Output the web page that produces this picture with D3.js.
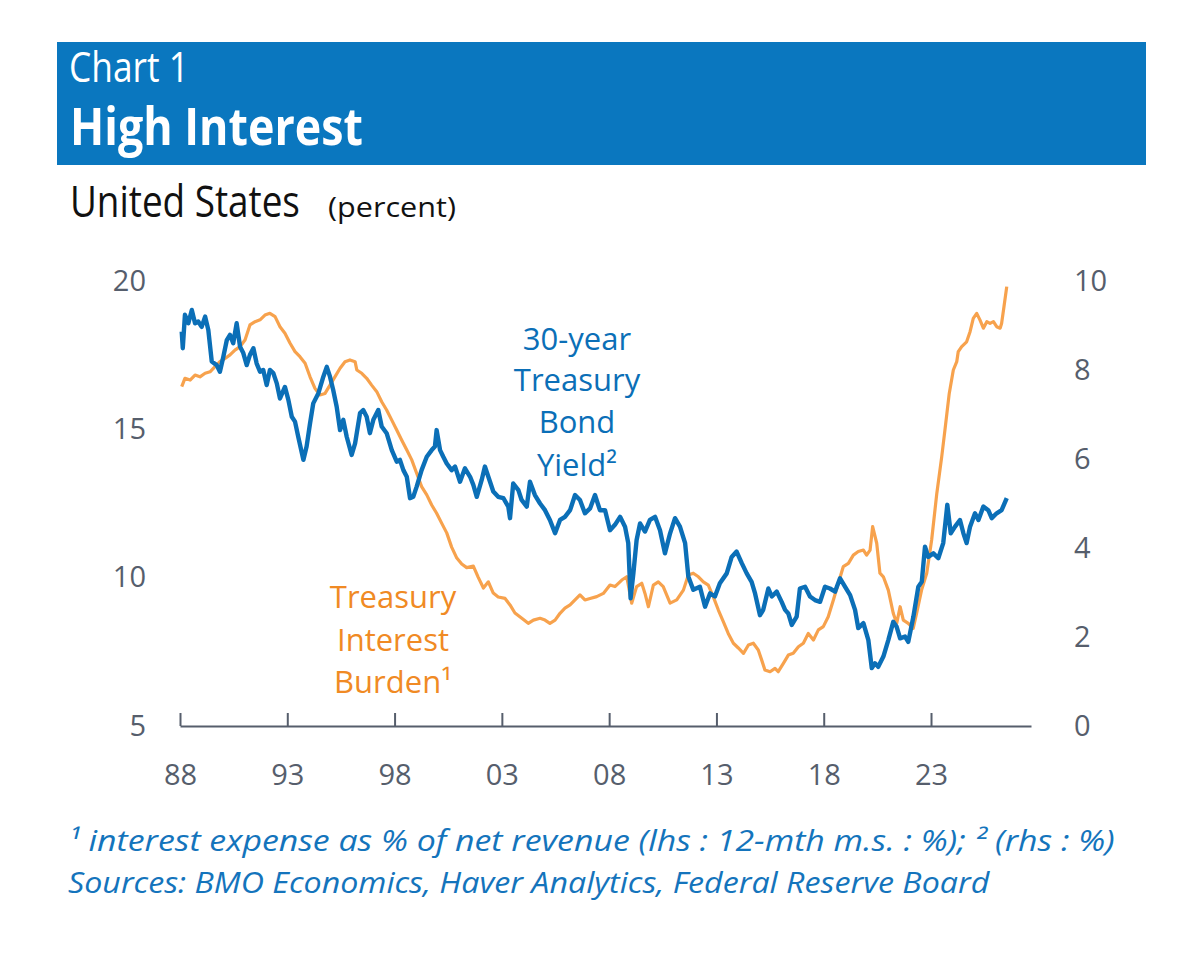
<!DOCTYPE html>
<html><head><meta charset="utf-8">
<script src="https://cdn.jsdelivr.net/npm/d3@7"></script>
<style>body{margin:0;background:#fff}</style></head>
<body><svg id="c" width="1200" height="967"></svg>
<script>
// ---- data ----
const bondYears = [1988.08,1988.13,1988.23,1988.39,1988.55,1988.70,1988.85,1989.01,1989.17,1989.32,1989.48,1989.71,1989.86,1990.02,1990.18,1990.33,1990.48,1990.64,1990.80,1990.95,1991.11,1991.26,1991.42,1991.57,1991.73,1991.88,1992.04,1992.19,1992.35,1992.51,1992.66,1992.89,1993.05,1993.21,1993.36,1993.51,1993.75,1993.90,1994.06,1994.21,1994.45,1994.68,1994.84,1994.99,1995.14,1995.30,1995.46,1995.61,1995.77,1996.00,1996.16,1996.39,1996.54,1996.70,1996.85,1997.01,1997.24,1997.40,1997.63,1997.87,1998.10,1998.25,1998.41,1998.57,1998.72,1998.87,1999.03,1999.26,1999.50,1999.73,1999.88,1999.96,2000.12,2000.27,2000.43,2000.66,2000.82,2001.05,2001.28,2001.52,2001.67,2001.83,2002.06,2002.21,2002.37,2002.60,2002.83,2003.07,2003.30,2003.38,2003.53,2003.77,2003.92,2004.16,2004.31,2004.54,2004.78,2005.01,2005.24,2005.48,2005.71,2005.94,2006.18,2006.41,2006.64,2006.87,2007.11,2007.34,2007.57,2007.81,2008.04,2008.27,2008.51,2008.74,2008.89,2009.00,2009.13,2009.28,2009.44,2009.67,2009.90,2010.14,2010.37,2010.60,2010.84,2011.07,2011.30,2011.54,2011.69,2011.92,2012.23,2012.47,2012.70,2012.93,2013.16,2013.48,2013.71,2013.94,2014.18,2014.41,2014.64,2014.80,2015.03,2015.18,2015.42,2015.58,2015.81,2016.04,2016.20,2016.35,2016.51,2016.74,2016.89,2017.13,2017.36,2017.59,2017.83,2018.06,2018.29,2018.53,2018.76,2018.99,2019.23,2019.46,2019.61,2019.85,2020.08,2020.24,2020.39,2020.54,2020.78,2021.01,2021.24,2021.40,2021.56,2021.79,2021.94,2022.18,2022.41,2022.57,2022.72,2022.87,2023.11,2023.34,2023.57,2023.76,2023.92,2024.12,2024.35,2024.51,2024.66,2024.82,2025.05,2025.21,2025.44,2025.67,2025.83,2026.06,2026.29,2026.53];
const bondYield = [8.86,8.49,9.24,9.05,9.35,9.05,9.09,8.97,9.20,8.90,8.19,8.11,7.96,8.30,8.67,8.79,8.60,9.05,8.52,8.38,8.11,8.34,8.49,8.15,7.96,8.00,7.66,8.00,7.93,7.70,7.36,7.62,7.33,6.95,6.84,6.50,5.98,6.28,6.80,7.25,7.48,7.85,8.07,7.85,7.55,7.18,6.65,6.88,6.50,6.09,6.35,7.03,7.10,6.95,6.58,6.88,7.10,6.73,6.58,6.20,5.94,5.98,5.75,5.60,5.12,5.15,5.38,5.75,6.05,6.20,6.28,6.65,6.20,6.05,5.90,5.75,5.83,5.49,5.79,5.60,5.42,5.15,5.53,5.83,5.60,5.27,5.15,5.12,4.93,4.67,5.45,5.30,5.08,4.93,5.49,5.19,5.00,4.85,4.63,4.33,4.63,4.70,4.85,5.19,5.08,4.78,4.89,5.19,4.85,4.85,4.40,4.52,4.70,4.48,4.11,2.87,3.43,4.18,4.55,4.37,4.63,4.70,4.40,3.88,4.33,4.67,4.48,4.11,3.36,3.06,3.13,2.68,2.98,2.91,3.21,3.43,3.80,3.92,3.66,3.43,3.24,2.98,2.49,2.61,3.09,2.91,3.02,2.79,2.61,2.53,2.27,2.46,3.09,3.13,2.91,2.83,2.79,3.13,3.09,3.02,3.32,3.13,2.94,2.61,2.20,2.31,1.93,1.30,1.41,1.33,1.56,1.93,2.34,2.23,1.97,2.01,1.89,2.46,3.13,3.24,4.03,3.80,3.88,3.77,4.11,4.97,4.33,4.48,4.63,4.33,4.11,4.48,4.78,4.63,4.93,4.85,4.67,4.78,4.85,5.12];

const burdenYears = [1988.08,1988.23,1988.47,1988.70,1988.93,1989.17,1989.40,1989.63,1989.86,1990.10,1990.33,1990.56,1990.80,1991.03,1991.26,1991.50,1991.73,1991.96,1992.19,1992.43,1992.66,1992.89,1993.13,1993.36,1993.59,1993.83,1994.06,1994.29,1994.52,1994.76,1994.99,1995.22,1995.46,1995.69,1995.92,1996.16,1996.24,1996.47,1996.70,1996.93,1997.17,1997.40,1997.63,1997.87,1998.10,1998.33,1998.57,1998.80,1999.03,1999.26,1999.50,1999.73,1999.96,2000.20,2000.43,2000.66,2000.90,2001.13,2001.36,2001.67,2001.90,2002.14,2002.37,2002.60,2002.83,2003.15,2003.38,2003.61,2003.93,2004.23,2004.47,2004.78,2005.01,2005.24,2005.48,2005.71,2005.94,2006.18,2006.41,2006.64,2006.87,2007.11,2007.42,2007.73,2008.04,2008.27,2008.59,2008.82,2009.05,2009.28,2009.52,2009.67,2009.83,2010.06,2010.29,2010.52,2010.84,2011.15,2011.46,2011.69,2011.92,2012.16,2012.39,2012.62,2012.85,2013.09,2013.32,2013.55,2013.79,2014.02,2014.26,2014.49,2014.72,2014.95,2015.11,2015.26,2015.50,2015.73,2015.88,2016.12,2016.35,2016.58,2016.82,2017.05,2017.28,2017.52,2017.75,2017.98,2018.21,2018.45,2018.68,2018.91,2019.15,2019.38,2019.61,2019.85,2020.00,2020.16,2020.28,2020.47,2020.62,2020.78,2021.01,2021.24,2021.40,2021.56,2021.71,2021.94,2022.17,2022.33,2022.56,2022.80,2023.03,2023.27,2023.50,2023.65,2023.85,2024.04,2024.20,2024.27,2024.43,2024.66,2024.82,2024.97,2025.13,2025.28,2025.44,2025.60,2025.75,2025.91,2026.06,2026.22,2026.29,2026.40,2026.53];
const burdenValues = [16.44,16.72,16.66,16.83,16.77,16.89,16.94,17.11,17.28,17.39,17.51,17.67,17.79,18.01,18.52,18.63,18.69,18.85,18.91,18.80,18.46,18.24,17.90,17.62,17.45,17.23,16.77,16.38,16.16,16.21,16.49,16.77,17.06,17.28,17.34,17.28,17.00,16.89,16.72,16.49,16.27,15.93,15.65,15.31,14.98,14.64,14.30,13.97,13.52,13.07,12.79,12.45,12.17,11.83,11.51,11.03,10.66,10.46,10.34,10.39,10.01,9.65,9.86,9.48,9.35,9.30,9.08,8.81,8.63,8.46,8.57,8.63,8.57,8.46,8.57,8.80,8.97,9.08,9.25,9.42,9.25,9.30,9.36,9.47,9.75,9.70,9.92,10.03,9.14,9.70,9.81,9.47,9.02,9.75,9.86,9.70,9.14,9.25,9.58,10.09,10.15,10.03,9.86,9.75,9.36,8.91,8.52,8.12,7.79,7.63,7.45,7.73,7.79,7.56,7.22,6.89,6.83,6.94,6.83,7.11,7.39,7.45,7.67,7.79,8.12,7.90,8.24,8.35,8.68,9.25,9.81,10.37,10.48,10.76,10.88,10.93,10.76,10.93,11.72,11.16,10.15,10.03,9.58,8.80,8.46,9.02,8.57,8.46,8.29,8.80,9.58,10.15,11.27,12.84,14.08,14.98,16.21,17.00,17.28,17.62,17.79,17.95,18.29,18.74,18.91,18.69,18.41,18.63,18.57,18.63,18.46,18.41,18.57,19.13,19.81];

const xTickYears = [1988,1993,1998,2003,2008,2013,2018,2023];
const xTickLabels = ["88","93","98","03","08","13","18","23"];
const leftTicks = [5,10,15,20];
const rightTicks = [0,2,4,6,8,10];

// ---- drawing ----
const FONT = "'Open Sans','Noto Sans',sans-serif";
const BLUE = "#0b6fb7", ORANGE = "#f7a24d", GREY = "#565e6c";
const svg = d3.select('#c').style('font-family', FONT);

svg.append('rect').attr('x',57).attr('y',42).attr('width',1089).attr('height',123).attr('fill','#0a77bf');

// text helper: if a target width is given, the text is scaled horizontally to it (condensed look)
function label(s, x, y, size, o = {}) {
  const t = svg.append('text')
    .attr('font-size', size).attr('fill', o.fill || '#000')
    .attr('font-weight', o.weight || 400)
    .attr('font-style', o.style || 'normal')
    .attr('text-anchor', o.anchor || 'start')
    .text(s);
  if (o.len) {
    t.attr('x', 0).attr('y', 0);
    const w = t.node().getComputedTextLength();
    const sx = w > 0 ? o.len / w : 1;
    t.attr('transform', `translate(${x},${y}) scale(${sx},1)`);
  } else {
    t.attr('x', x).attr('y', y);
  }
  return t;
}

label('Chart 1', 69, 82, 42, {fill:'#fff', len:120});
label('High Interest', 70, 145, 52, {fill:'#fff', weight:700, len:293});
label('United States', 70, 217, 43, {fill:'#111', len:230});
label('(percent)', 328, 217, 27, {fill:'#111', len:128});

const x = d3.scaleLinear().domain([1988, 2027.66]).range([180, 1031]);
const yL = d3.scaleLinear().domain([5, 20]).range([726, 281]);
const yR = d3.scaleLinear().domain([0, 10]).range([726, 281]);

// bottom axis
const gx = svg.append('g').attr('transform', 'translate(0,726)')
  .call(d3.axisBottom(x).tickValues(xTickYears)
    .tickFormat((d, i) => xTickLabels[i])
    .tickSizeInner(-13).tickSizeOuter(0).tickPadding(38));
gx.select('.domain').attr('stroke', GREY).attr('stroke-width', 2);
gx.selectAll('.tick line').attr('stroke', GREY).attr('stroke-width', 2);
gx.selectAll('.tick text').attr('fill', GREY).attr('font-size', 29).attr('font-family', FONT);

// left axis
const gl = svg.append('g').attr('transform', 'translate(146,0)')
  .call(d3.axisLeft(yL).tickValues(leftTicks).tickSize(0).tickPadding(0));
gl.select('.domain').remove();
gl.selectAll('.tick text').attr('fill', GREY).attr('font-size', 29).attr('font-family', FONT);

// right axis
const gr = svg.append('g').attr('transform', 'translate(1074,0)')
  .call(d3.axisRight(yR).tickValues(rightTicks).tickSize(0).tickPadding(0));
gr.select('.domain').remove();
gr.selectAll('.tick text').attr('fill', GREY).attr('font-size', 29).attr('font-family', FONT);

// lines
const burden = burdenYears.map((yr, i) => ({yr, v: burdenValues[i]}));
const bond = bondYears.map((yr, i) => ({yr, v: bondYield[i]}));

svg.append('path').datum(burden)
  .attr('fill', 'none').attr('stroke', ORANGE).attr('stroke-width', 3.2)
  .attr('stroke-linejoin', 'round')
  .attr('d', d3.line().x(d => x(d.yr)).y(d => yL(d.v)));

svg.append('path').datum(bond)
  .attr('fill', 'none').attr('stroke', BLUE).attr('stroke-width', 4.4)
  .attr('stroke-linejoin', 'round')
  .attr('d', d3.line().x(d => x(d.yr)).y(d => yR(d.v)));

// annotations
const blueLab = ['30-year', 'Treasury', 'Bond', 'Yield²'];
[350, 391, 433, 476].forEach((yy, i) => label(blueLab[i], 577, yy, 31, {fill: BLUE, anchor: 'middle'}));
const orLab = ['Treasury', 'Interest', 'Burden¹'];
const ORTXT = '#f08a24';
[608, 651, 693].forEach((yy, i) => label(orLab[i], 393, yy, 31, {fill: ORTXT, anchor: 'middle'}));

// footnotes
const FOOT = '#1474bc';
label('¹ interest expense as % of net revenue (lhs : 12-mth m.s. : %); ² (rhs : %)', 68, 851, 29, {fill: FOOT, style: 'italic', len: 1047});
label('Sources: BMO Economics, Haver Analytics, Federal Reserve Board', 68, 893, 29, {fill: FOOT, style: 'italic', len: 922});
</script>
</body></html>
